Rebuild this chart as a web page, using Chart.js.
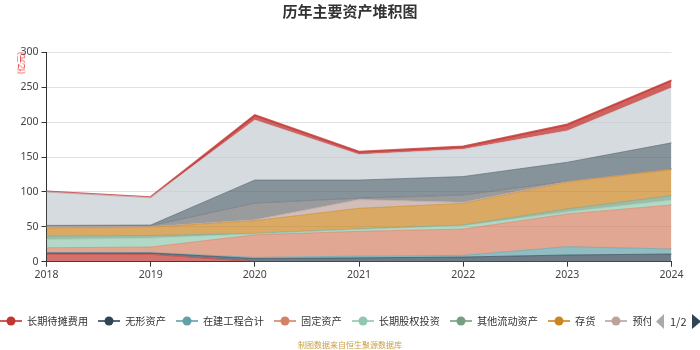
<!DOCTYPE html>
<html><head><meta charset="utf-8">
<script src="https://cdn.jsdelivr.net/npm/chart.js@4"></script>
<style>
body{margin:0;width:700px;height:350px;overflow:hidden;background:#fff;font-family:"Noto Sans CJK SC","Noto Sans",sans-serif;position:relative}
canvas{position:absolute;left:0;top:0}
#title{position:absolute;top:1px;left:0;width:700px;text-align:center;font-weight:bold;font-size:15px;color:#333;line-height:20px}
#unit{position:absolute;left:20px;top:63px;font-size:8.5px;color:#f03030;transform:translate(-50%,-50%) rotate(-90deg);white-space:nowrap;line-height:10px;z-index:2}
#legend{position:absolute;left:0;top:312px;width:651px;height:18px;overflow:hidden;white-space:nowrap;font-size:10.2px;color:#333;line-height:18px;display:flex}
.item{display:flex;align-items:center;margin-right:10px;flex:none}
.item svg{margin-right:5px;flex:none}
#pager{position:absolute;left:656px;top:312px;height:18px;display:flex;align-items:center;font-size:11px;color:#333}
#foot{position:absolute;top:339px;left:0;width:700px;text-align:center;font-size:8px;color:#c9a044;line-height:12px}
</style></head>
<body>
<canvas id="c" width="700" height="350"></canvas>
<div id="title">历年主要资产堆积图</div>
<div id="unit">(亿元)</div>
<div id="legend"></div>
<div id="pager">
<svg width="9" height="15"><polygon points="8,0 8,15 0,7.5" fill="#aaa"/></svg>
<span style="margin:0 5px 0 5px">1/2</span>
<svg width="9" height="15"><polygon points="0,0 0,15 9,7.5" fill="#2f4554"/></svg>
</div>
<div id="foot">制图数据来自恒生聚源数据库</div>
<script>
const categories = ['2018','2019','2020','2021','2022','2023','2024'];
const seriesNames = ['长期待摊费用','无形资产','在建工程合计','固定资产','长期股权投资','其他流动资产','存货','预付款项','其他应收款','应收票据及应收账款','货币资金','交易性金融资产'];
const s1 = [11, 10.5, 0.2, 0.2, 0.2, 0.2, 0.2];
const s2 = [1.5, 2, 4.3, 5.3, 6.5, 9.4, 10.8];
const s3 = [0.5, 0.5, 1.7, 2.5, 2.4, 11.9, 7.2];
const s4 = [7, 8, 32.3, 35.5, 37.7, 46.9, 63.1];
const s5 = [12, 13, 1.5, 3, 4.8, 3.1, 7.2];
const s6 = [5, 3.5, 0.6, 0.5, 0.9, 4.1, 6.2];
const s7 = [11.5, 12, 18.2, 29.5, 31, 38.4, 37.3];
const s8 = [1.5, 1, 1.2, 12.5, 1.5, 1, 0.7];
const s9 = [1, 1, 24, 2, 10.5, 0.5, 0.3];
const s10 = [1, 1, 33, 26, 26.5, 27, 37.3];
const s11 = [48, 39.5, 86, 36.5, 39, 45, 79];
const s12 = [0.5, 0.5, 7, 4, 4, 9, 10.5];
const yTicks = [0,50,100,150,200,250,300];
const allSeries = [s1,s2,s3,s4,s5,s6,s7,s8,s9,s10,s11,s12];
const colors = ['#c23531','#2f4554','#61a0a8','#d48265','#91c7ae','#749f83','#ca8622','#bda29a','#6e7074','#546570','#c4ccd3','#c23531'];
function rgba(hex,a){const n=parseInt(hex.slice(1),16);return `rgba(${n>>16},${(n>>8)&255},${n&255},${a})`;}

const datasets = allSeries.map((d,i)=>({
  label: seriesNames[i], data: d,
  fill: i===0 ? 'origin' : '-1',
  backgroundColor: rgba(colors[i], i===11?0.78:0.7),
  borderColor: rgba(colors[i], i===11?0.8:0.6),
  borderWidth: i===11?2:1,
  pointRadius:0, tension:0
}));

new Chart(document.getElementById('c'),{
  type:'line',
  data:{labels:categories,datasets},
  options:{
    responsive:false,animation:false,devicePixelRatio:1,
    layout:{padding:{left:0,top:52.3,right:28.5,bottom:0}},
    plugins:{legend:{display:false},title:{display:false},tooltip:{enabled:false}},
    scales:{
      x:{
        z:1,
        afterFit:s=>{s.height=88.3;},
        grid:{drawOnChartArea:false,tickColor:'#333',tickLength:5},
        border:{color:'#333',width:1},
        ticks:{color:'#444',font:{size:10.5,family:'Noto Sans'},padding:2,maxRotation:0,autoSkip:false}
      },
      y:{
        stacked:true,min:0,max:300,
        afterFit:s=>{s.width=46.5;},
        afterBuildTicks:s=>{s.ticks=yTicks.map(v=>({value:v}));},
        grid:{color:'#e2e2e2',tickColor:'#333',tickLength:5},
        border:{color:'#333',width:1},
        ticks:{color:'#444',font:{size:10.5,family:'Noto Sans'},padding:3}
      }
    }
  }
});

const lg=document.getElementById('legend');
seriesNames.slice(0,8).forEach((n,i)=>{
  const it=document.createElement('div');it.className='item';
  it.innerHTML=`<svg width="22" height="12"><line x1="0" y1="6" x2="22" y2="6" stroke="${colors[i]}" stroke-width="1.6"/><circle cx="11" cy="6" r="4.5" fill="${colors[i]}"/></svg><span>${n}</span>`;
  lg.appendChild(it);
});
</script>
</body></html>
